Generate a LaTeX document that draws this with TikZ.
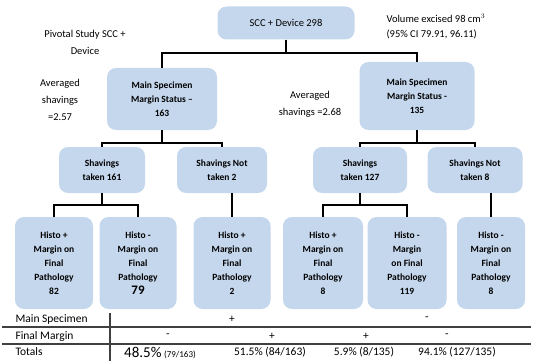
\documentclass[tikz,border=0pt]{standalone}
\usepackage{fontspec}
\setmainfont{Carlito}
\definecolor{boxblue}{RGB}{197,215,237}
\begin{document}
\begin{tikzpicture}[x=1pt, y=-1pt,
    box/.style={fill=boxblue, rounded corners=9pt, align=center, inner sep=1pt,
                font=\bfseries\fontsize{9.5}{14}\selectfont},
    link/.style={line width=2.2pt},
    note/.style={align=center, font=\fontsize{10.5}{17}\selectfont},
    cell/.style={font=\fontsize{11.5}{13}\selectfont},
    rule/.style={line width=1.2pt, black!75}]
\useasboundingbox (0,0) rectangle (533,361);

% tree
\node[box, minimum width=137pt, minimum height=33pt, font=\fontsize{10.5}{13}\selectfont] (scc) at (286,23) {SCC + Device 298};
\node[box, minimum width=110pt, minimum height=62pt] (msL) at (162,99) {Main Specimen\\Margin Status –\\163};
\node[box, minimum width=115pt, minimum height=68pt] (msR) at (417,96) {Main Specimen\\Margin Status -\\135};

\node[box, minimum width=86pt, minimum height=46pt] (shL) at (102,170) {Shavings\\taken 161};
\node[box, minimum width=90pt, minimum height=46pt] (nsL) at (222,170) {Shavings Not\\taken 2};
\node[box, minimum width=94pt, minimum height=46pt] (shR) at (360,170) {Shavings\\taken 127};
\node[box, minimum width=95pt, minimum height=46pt] (nsR) at (475,170) {Shavings Not\\taken 8};

\node[box, minimum width=78pt, minimum height=92pt] (h82) at (54,263) {Histo +\\Margin on\\Final\\Pathology\\82};
\node[box, minimum width=77pt, minimum height=92pt] (h79) at (138,263) {Histo -\\Margin on\\Final\\Pathology\\{\fontsize{13}{14}\selectfont 79}};
\node[box, minimum width=77pt, minimum height=92pt] (h2) at (232,263) {Histo +\\Margin on\\Final\\Pathology\\2};
\node[box, minimum width=80pt, minimum height=92pt] (h8a) at (323,263) {Histo +\\Margin on\\Final\\Pathology\\8};
\node[box, minimum width=79pt, minimum height=92pt] (h119) at (407,263) {Histo -\\Margin\\on Final\\Pathology\\119};
\node[box, minimum width=68pt, minimum height=92pt] (h8b) at (491,263) {Histo -\\Margin on\\Final\\Pathology\\8};

\draw[link] (scc.south) -- ++(0,13) -| (msL.north);
\draw[link] (scc.south) -- ++(0,13) -| (msR.north);
\draw[link] (msL.south) -- ++(0,13) -| (shL.north);
\draw[link] (msL.south) -- ++(0,13) -| (nsL.north);
\draw[link] (msR.south) -- ++(0,13) -| (shR.north);
\draw[link] (msR.south) -- ++(0,13) -| (nsR.north);
\draw[link] (shL.south) -- ++(0,12) -| (h82.north);
\draw[link] (shL.south) -- ++(0,12) -| (h79.north);
\draw[link] (shR.south) -- ++(0,12) -| (h8a.north);
\draw[link] (shR.south) -- ++(0,12) -| (h119.north);
\draw[link] (h2.north |- nsL.south) -- (h2.north);
\draw[link] (h8b.north |- nsR.south) -- (h8b.north);

% side notes
\node[note] (pivotal) at (85,42) {Pivotal Study SCC +\\Device};
\node[note] (avgL) at (60,100) {Averaged\\shavings\\=2.57};
\node[note] (avgR) at (310,104) {Averaged\\shavings =2.68};
\node[note, anchor=west, align=left, font=\fontsize{10.5}{15}\selectfont] (vol) at (383,26) {Volume excised 98 cm$^3$\\(95\% CI 79.91, 96.11)};

% table
\draw[rule] (2,327) -- (531,327);
\draw[rule] (2,344) -- (531,344);
\draw[rule] (110,313) -- (110,361);
\node[cell, anchor=west] (rowA) at (12,319) {Main Specimen};
\node[cell, anchor=west] (rowB) at (12,336) {Final Margin};
\node[cell, anchor=west] (rowC) at (12,352) {Totals};
\node[cell] (mA) at (232,319) {+};
\node[cell] (mB) at (427,319) {-};
\foreach \x/\s [count=\i] in {168/-,272/+,366/+,447/-}
    \node[cell] (fm\i) at (\x,336) {\s};
\node[cell] (tot1) at (160,353) {{\fontsize{15}{15}\selectfont 48.5\%} {\fontsize{9}{10}\selectfont (79/163)}};
\node[cell] (tot2) at (270,352) {51.5\% (84/163)};
\node[cell] (tot3) at (364,352) {5.9\% (8/135)};
\node[cell] (tot4) at (457,352) {94.1\% (127/135)};
\end{tikzpicture}
\end{document}
